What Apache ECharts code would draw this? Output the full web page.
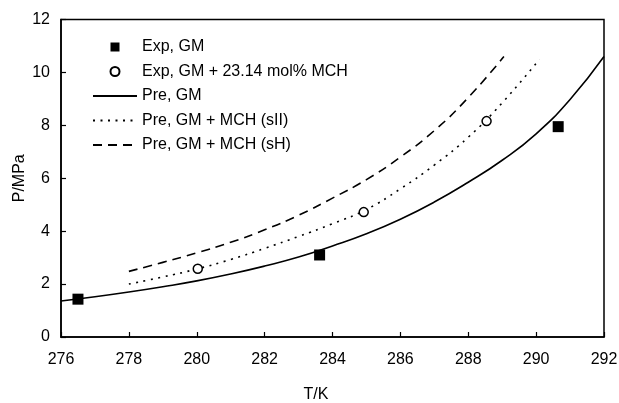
<!DOCTYPE html>
<html>
<head>
<meta charset="utf-8">
<script src="https://cdn.jsdelivr.net/npm/echarts@6/dist/echarts.min.js"></script>
<style>
html,body{margin:0;padding:0;background:#fff;}
#c{width:619px;height:403px;}
</style>
</head>
<body>
<div id="c"></div>
<script>
// Tick range
var xMin = 276, xMax = 292, xStep = 2;
var yMin = 0, yMax = 12, yStep = 2;

// Experimental data
var expGM = [[276.5, 1.43], [283.62, 3.10], [290.65, 7.95]];
var expMCH = [[280.03, 2.58], [284.92, 4.72], [288.54, 8.16]];

// Predicted curves
var preGM_T = [276, 277, 278, 279, 280, 281, 282, 283, 284, 285, 286, 287, 288, 289, 290, 291, 292];
var preGM_P = [1.36, 1.52, 1.70, 1.90, 2.12, 2.38, 2.68, 3.02, 3.44, 3.90, 4.45, 5.10, 5.85, 6.68, 7.68, 8.98, 10.6];

var preSII_T = [278, 279, 280, 281, 282, 283, 284, 285, 286, 287, 288, 289, 290.1];
var preSII_P = [2.0, 2.27, 2.57, 2.93, 3.35, 3.8, 4.28, 4.82, 5.6, 6.5, 7.55, 8.85, 10.5];

var preSH_T = [278, 279, 280, 281, 282, 283, 284, 285, 286, 287, 288, 289.05];
var preSH_P = [2.48, 2.82, 3.18, 3.58, 4.05, 4.6, 5.25, 5.95, 6.8, 7.8, 9.05, 10.6];

var names = ['Exp, GM', 'Exp, GM + 23.14 mol% MCH', 'Pre, GM', 'Pre, GM + MCH (sII)', 'Pre, GM + MCH (sH)'];

function zip(a, b) { return a.map(function (v, i) { return [v, b[i]]; }); }

var font = 'Liberation Sans, Arial, sans-serif';
var hideSym = {opacity: 0};
var chart = echarts.init(document.getElementById('c'), null, {renderer: 'canvas'});
chart.setOption({
  animation: false,
  backgroundColor: '#fff',
  textStyle: {fontFamily: font, color: '#000'},
  grid: {left: 61, right: 15, top: 19.5, bottom: 66, show: true, borderColor: '#000', borderWidth: 1.5,
         backgroundColor: 'transparent', containLabel: false, outerBoundsMode: 'none'},
  legend: {
    orient: 'vertical', left: 87, top: 34,
    itemWidth: 44, itemHeight: 9, itemGap: 8.5,
    textStyle: {fontSize: 16, fontFamily: font, color: '#000', lineHeight: 16},
    data: [
      {name: names[0], icon: 'path://M0,0H10V10H0Z', itemStyle: {opacity: 1}},
      {name: names[1], icon: 'circle', itemStyle: {opacity: 1}},
      {name: names[2], itemStyle: hideSym},
      {name: names[3], itemStyle: hideSym},
      {name: names[4], itemStyle: hideSym}
    ]
  },
  xAxis: {
    type: 'value', min: xMin, max: xMax, interval: xStep,
    name: 'T/K', nameLocation: 'middle', nameGap: 50,
    nameTextStyle: {fontSize: 16, fontFamily: font, color: '#000', padding: [0, 33, 0, 0]},
    axisLine: {show: true, lineStyle: {color: '#000', width: 1.5}},
    axisTick: {show: true, inside: true, length: 5, lineStyle: {color: '#000', width: 1.2}},
    axisLabel: {fontSize: 16, color: '#000', fontFamily: font, margin: 15},
    splitLine: {show: false}
  },
  yAxis: {
    type: 'value', min: yMin, max: yMax, interval: yStep,
    name: 'P/MPa', nameLocation: 'middle', nameGap: 33, nameRotate: 90, nameMoveOverlap: false,
    nameTextStyle: {fontSize: 16, fontFamily: font, color: '#000'},
    axisLine: {show: true, lineStyle: {color: '#000', width: 1.5}},
    axisTick: {show: true, inside: true, length: 5, lineStyle: {color: '#000', width: 1.2}},
    axisLabel: {fontSize: 16, color: '#000', fontFamily: font, margin: 11},
    splitLine: {show: false}
  },
  series: [
    {
      name: names[0], type: 'scatter', data: expGM, symbol: 'rect', symbolSize: 11,
      itemStyle: {color: '#000', opacity: 1}, z: 5
    },
    {
      name: names[1], type: 'scatter', data: expMCH, symbol: 'circle', symbolSize: 9,
      itemStyle: {color: '#fff', borderColor: '#000', borderWidth: 1.5, opacity: 1}, z: 5
    },
    {
      name: names[2], type: 'line', data: zip(preGM_T, preGM_P), smooth: 0.5, symbol: 'none',
      lineStyle: {color: '#000', width: 1.6, type: 'solid'}, itemStyle: {color: '#000'}
    },
    {
      name: names[3], type: 'line', data: zip(preSII_T, preSII_P), smooth: 0.5, symbol: 'none',
      lineStyle: {color: '#000', width: 1.6, type: [2, 5.5]}, itemStyle: {color: '#000'}
    },
    {
      name: names[4], type: 'line', data: zip(preSH_T, preSH_P), smooth: 0.5, symbol: 'none',
      lineStyle: {color: '#000', width: 1.6, type: [9, 6]}, itemStyle: {color: '#000'}
    }
  ]
});
</script>
</body>
</html>
